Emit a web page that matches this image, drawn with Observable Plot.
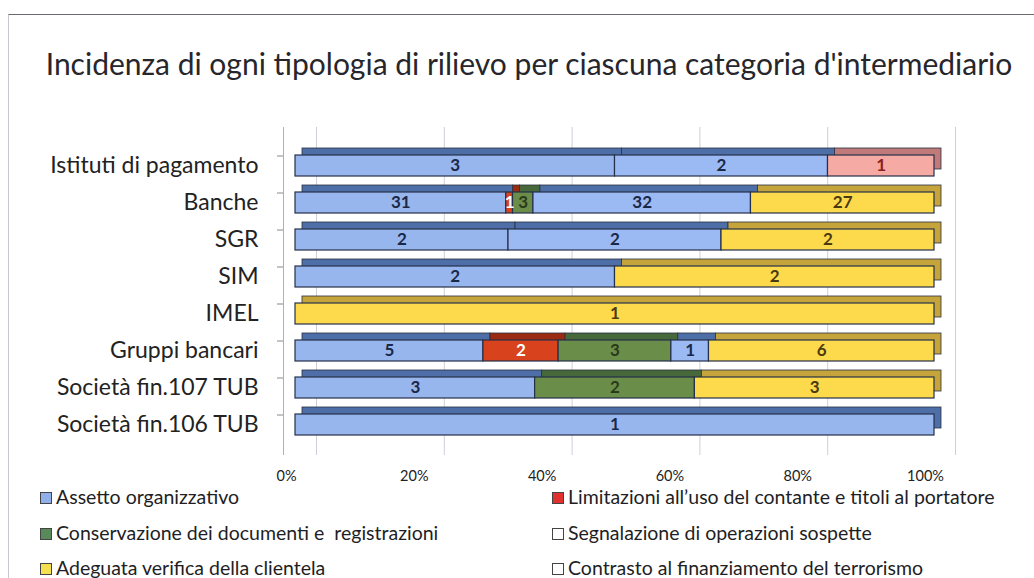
<!DOCTYPE html>
<html>
<head>
<meta charset="utf-8">
<script src="https://cdn.jsdelivr.net/npm/d3@7"></script>
<script src="https://cdn.jsdelivr.net/npm/@observablehq/plot@0.6"></script>
<style>
  html, body { margin: 0; padding: 0; background: #fff; width: 1034px; height: 578px; overflow: hidden; font-family: Lato, "Noto Sans", sans-serif; }
  #frame { position: absolute; left: 8px; top: 14px; width: 1100px; height: 700px; border-left: 1px solid #c8c8d0; border-top: 1px solid #6a6a70; }
  #title { position: absolute; left: 0; width: 1058px; top: 45px; text-align: center; font-size: 30px; color: #26262c; white-space: nowrap; }
  #chart { position: absolute; left: 0; top: 100px; }
  .leg { position: absolute; font-size: 19.5px; color: #1e1e24; white-space: pre; line-height: 20px; }
  .leg .box { display: inline-block; width: 10px; height: 10px; border: 1px solid #444; margin-right: 4px; vertical-align: 0px; }
</style>
</head>
<body>
<div id="frame"></div>
<div id="title">Incidenza di ogni tipologia di rilievo per ciascuna categoria d'intermediario</div>
<div id="chart"></div>
<div id="legend"></div>
<script>
const categories = ["Istituti di pagamento", "Banche", "SGR", "SIM", "IMEL", "Gruppi bancari", "Società fin.107 TUB", "Società fin.106 TUB"];
const seriesNames = [
  "Assetto organizzativo",
  "Limitazioni all’uso del contante e titoli al portatore",
  "Conservazione dei documenti e  registrazioni",
  "Segnalazione di operazioni sospette",
  "Adeguata verifica della clientela",
  "Contrasto al finanziamento del terrorismo"
];
const assetto       = [3, 31, 2, 2, 0, 5, 3, 1];
const limitazioni   = [0, 1, 0, 0, 0, 2, 0, 0];
const conservazione = [0, 3, 0, 0, 0, 3, 2, 0];
const segnalazione  = [2, 32, 2, 0, 0, 1, 0, 0];
const adeguata      = [0, 27, 2, 2, 1, 6, 3, 0];
const contrasto     = [1, 0, 0, 0, 0, 0, 0, 0];
const xTicks = [0, 0.2, 0.4, 0.6, 0.8, 1];

const seriesValues = [assetto, limitazioni, conservazione, segnalazione, adeguata, contrasto];
const frontFill = ["#98b6ee", "#d8421c", "#6a8e4a", "#9bb9f2", "#fdd94c", "#f5aaa4"];
const topFill   = ["#4e6ea8", "#9a2a12", "#46683a", "#4e6ea8", "#c6a43c", "#c07a7a"];
const inkFill   = ["#1a2848", "#ffffff", "#2a3a1a", "#1a2848", "#4a3a10", "#8a2020"];
const legendBox = ["#8fb0ea", "#e03030", "#5a8a5a", "#ffffff", "#f5e050", "#ffffff"];

const idx = Object.fromEntries(seriesNames.map((s, i) => [s, i]));
const rows = [];
seriesNames.forEach((s, i) => categories.forEach((c, j) => {
  const v = seriesValues[i][j];
  if (v > 0) rows.push({category: c, series: s, value: v});
}));

const stackOpts = (extra) => Plot.stackX({offset: "normalize", order: seriesNames, x: "value", y: "category", z: "series", ...extra});

const chart = Plot.plot({
  width: 1034,
  height: 400,
  marginTop: 27,
  marginBottom: 45,
  marginLeft: 295,
  marginRight: 100,
  style: {fontFamily: "Lato, 'Noto Sans', sans-serif", background: "transparent", color: "#222"},
  x: {domain: [0, 1], label: null},
  y: {domain: categories, paddingInner: 0.43, paddingOuter: 0.215, insetTop: 18, insetBottom: 9, label: null},
  color: {type: "identity"},
  marks: [
    Plot.ruleX(xTicks, {dx: 21, stroke: "#cfcfd8", strokeWidth: 1}),
    Plot.ruleX([0], {dx: -12, stroke: "#b0b0b8"}),
    Plot.axisY({tickSize: 6, dx: -12, dy: -10, tickFormat: () => "", stroke: "#888"}),
    Plot.barX(rows, stackOpts({fill: d => topFill[idx[d.series]], stroke: "#2a3040", strokeWidth: 0.8, dx: 7, dy: -7})),
    Plot.barX(rows, stackOpts({fill: d => frontFill[idx[d.series]], stroke: "#25304a", strokeWidth: 1.2})),
    Plot.text(rows, stackOpts({text: "value", fill: d => inkFill[idx[d.series]], fontWeight: "bold", fontSize: 17})),
    Plot.axisY({tickSize: 0, tickPadding: 37, fontSize: 23, fill: "#222"}),
    Plot.axisX({ticks: xTicks, tickFormat: d3.format(".0%"), tickSize: 0, tickPadding: 15, dx: -9, fontSize: 14.5, fill: "#222"})
  ]
});
document.getElementById("chart").appendChild(chart);

const legendPos = [
  {left: 40, top: 487}, {left: 552, top: 487},
  {left: 40, top: 523}, {left: 552, top: 523},
  {left: 40, top: 558}, {left: 552, top: 558}
];
const legend = document.getElementById("legend");
seriesNames.forEach((s, i) => {
  const el = document.createElement("div");
  el.className = "leg";
  el.style.left = legendPos[i].left + "px";
  el.style.top = legendPos[i].top + "px";
  el.innerHTML = `<span class="box" style="background:${legendBox[i]}"></span>`;
  el.appendChild(document.createTextNode(s));
  legend.appendChild(el);
});
</script>
</body>
</html>
